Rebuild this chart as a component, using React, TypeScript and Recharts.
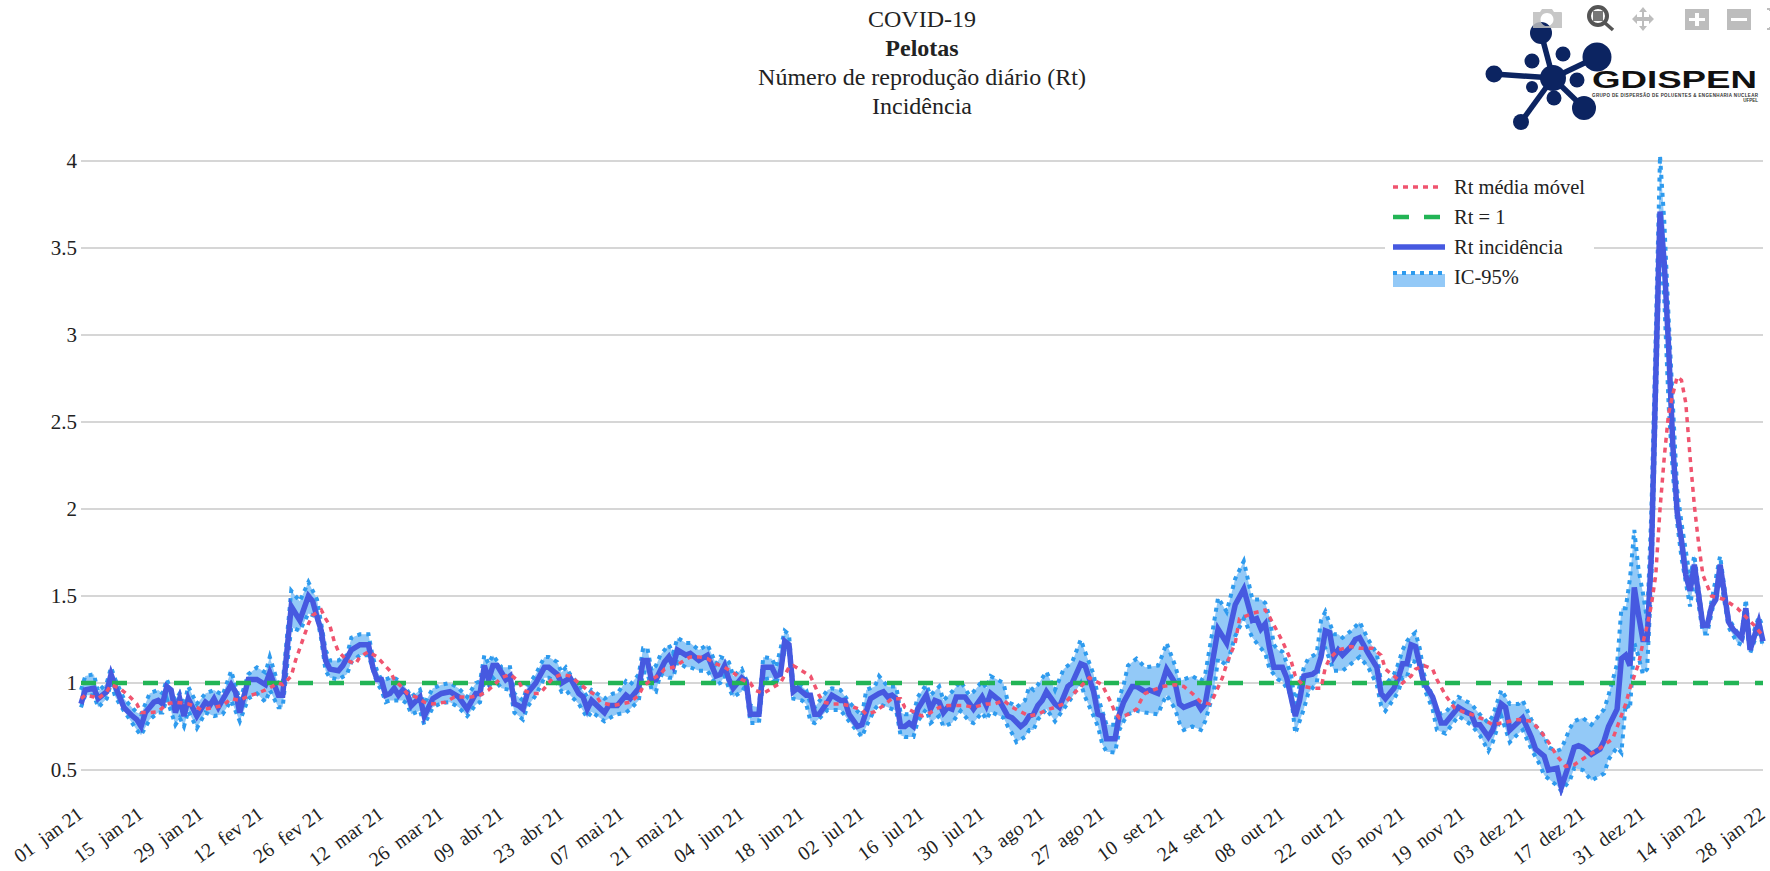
import { Area, CartesianGrid, ComposedChart, Legend, Line, XAxis, YAxis } from 'recharts'

// day number counted from 01 jan 21
const tickLabels = [
  '01  jan 21', '15  jan 21', '29  jan 21', '12  fev 21', '26  fev 21', '12  mar 21', '26  mar 21', '09  abr 21',
  '23  abr 21', '07  mai 21', '21  mai 21', '04  jun 21', '18  jun 21', '02  jul 21', '16  jul 21', '30  jul 21',
  '13  ago 21', '27  ago 21', '10  set 21', '24  set 21', '08  out 21', '22  out 21', '05  nov 21', '19  nov 21',
  '03  dez 21', '17  dez 21', '31  dez 21', '14  jan 22', '28  jan 22',
]
const tickDays = tickLabels.map((_, i) => i * 14)
const yTicks = [0.5, 1, 1.5, 2, 2.5, 3, 3.5, 4]
const lastDay = 392

const titleLines = ['COVID-19', 'Pelotas', 'Número de reprodução diário (Rt)', 'Incidência']

// [day, Rt]
const rtPoints = [
  [0, .88], [1, .96], [3, .97], [4, .91], [6, .95], [7, 1.05], [8, .98], [10, .86], [12, .81], [13, .79], [14, .75], [15, .83], [17, .89], [18, .90], [19, .88], [20, .98], [21, .96], [22, .83], [23, .91], [24, .81], [25, .91], [27, .81], [29, .89], [30, .87], [31, .91], [32, .86], [35, .99], [36, .95], [37, .83], [39, 1.02], [41, 1.02], [43, .99], [44, 1.06], [46, .93], [47, .93], [49, 1.44], [51, 1.36], [53, 1.50],
  [54, 1.47], [55, 1.38], [56, 1.3], [57, 1.13], [58, 1.08], [60, 1.07], [61, 1.10], [63, 1.19], [65, 1.22], [67, 1.22], [68, 1.09], [69, 1.02], [70, 1.02], [71, .93], [72, .94], [73, .97], [74, .93], [75, .96], [76, .94], [77, .87], [79, .92], [80, .81], [82, .91], [84, .94], [86, .95], [88, .92], [90, .85], [92, .94], [93, .94], [94, 1.10], [95, 1.02], [96, 1.10], [97, 1.10], [99, 1.02], [100, 1.04], [101, .88], [102, .87], [103, .85], [104, .94], [106, 1.0], [108, 1.09], [109, 1.09],
  [110, 1.07], [111, 1.05], [112, 1.0], [114, 1.03], [116, .94], [117, .92], [118, .85], [119, .90], [122, .83], [123, .87], [125, .87], [127, .93], [128, .91], [130, .97], [131, 1.13], [132, 1.13], [133, 1.01], [134, 1.02], [136, 1.12], [137, 1.15], [138, 1.10], [139, 1.19], [141, 1.16], [142, 1.17], [144, 1.13], [146, 1.16], [148, 1.04], [149, 1.05], [150, 1.10], [151, 1.02], [152, .97], [154, 1.03], [155, 1.01], [156, .82], [158, .82], [159, 1.09], [161, 1.09], [162, 1.04], [163, 1.05], [164, 1.24], [165, 1.22],
  [166, .95], [167, .97], [169, .93], [170, .93], [171, .82], [172, .82], [174, .89], [175, .93], [177, .90], [178, .90], [179, .82], [181, .75], [182, .76], [184, .91], [186, .94], [187, .95], [188, .92], [189, .93], [190, .91], [191, .75], [192, .75], [193, .77], [194, .75], [195, .85], [197, .93], [198, .85], [199, .90], [200, .89], [201, .83], [202, .86], [203, .85], [204, .92], [206, .92], [208, .85], [210, .92], [211, .87], [212, .94], [214, .90], [216, .81], [217, .80], [219, .75], [220, .77], [221, .81],
  [222, .82], [223, .87], [224, .90], [225, .95], [227, .88], [228, .86], [230, .98], [231, 1.0], [233, 1.11], [234, 1.10], [236, .95], [237, .82], [238, .81], [239, .68], [241, .68], [242, .82], [243, .89], [245, .98], [246, .98], [248, .95], [249, .96], [251, .94], [252, 1.0], [253, 1.08], [255, 1.0], [256, .88], [257, .86], [260, .89], [261, .85], [262, .88], [263, 1.02], [265, 1.31], [267, 1.23], [269, 1.45], [271, 1.54], [273, 1.36], [274, 1.37], [275, 1.31], [276, 1.34], [277, 1.2],
  [278, 1.09], [280, 1.09], [281, 1.03], [283, .81], [284, .90], [285, 1.04], [287, 1.05], [288, 1.07], [289, 1.15], [290, 1.30], [291, 1.29], [292, 1.15], [293, 1.19], [294, 1.16], [296, 1.21], [297, 1.25], [298, 1.26], [300, 1.17], [302, 1.09], [303, .94], [304, .91], [306, .97], [307, 1.03], [308, 1.11], [309, 1.11], [310, 1.22], [311, 1.21], [313, 1.0], [315, .92], [317, .77], [318, .77], [321, .86], [323, .83], [324, .82], [325, .76], [326, .76], [328, .69], [329, .73], [331, .88], [332, .86], [333, .73],
  [336, .80], [338, .69], [339, .62], [341, .58], [342, .50], [344, .51], [345, .40], [347, .55], [348, .63], [349, .64], [350, .63], [352, .59], [354, .62], [355, .67], [356, .75], [358, .85], [359, 1.14], [360, 1.16], [361, 1.10], [362, 1.55], [363, 1.39], [364, 1.25], [365, 1.25], [366, 1.75], [367, 2.75], [368, 3.71], [369, 3.41], [370, 2.93], [371, 2.36], [372, 1.98], [373, 1.82], [374, 1.62], [375, 1.53], [376, 1.68], [378, 1.33], [379, 1.33], [380, 1.44], [381, 1.48], [382, 1.68], [384, 1.35], [385, 1.31], [387, 1.26], [388, 1.43], [389, 1.19], [391, 1.35], [392, 1.24],
]

// [day, lower, upper]
const bandPoints = [
  [0, .86, .96], [1, .93, 1.04], [3, .93, 1.05], [4, .86, .95], [6, .91, 1.0], [7, 1.0, 1.09], [8, .92, 1.02], [10, .84, .91], [13, .73, .83], [14, .70, .82], [16, .79, .94], [18, .83, .96], [19, .83, .94], [20, .91, 1.02], [22, .76, .90], [23, .80, .94], [24, .75, .87], [25, .84, .98], [27, .74, .88], [29, .83, .94], [31, .81, .96], [33, .82, .93], [35, .90, 1.07], [37, .78, .90], [39, .91, 1.05], [41, .94, 1.09], [43, .89, 1.06], [44, .96, 1.15], [46, .86, .99], [47, .86, 1.0], [49, 1.32, 1.53], [51, 1.30, 1.47], [53, 1.40, 1.58],
  [55, 1.38, 1.48], [56, 1.25, 1.34], [57, 1.07, 1.19], [58, 1.03, 1.13], [60, 1.02, 1.13], [62, 1.05, 1.16], [63, 1.12, 1.26], [65, 1.16, 1.28], [67, 1.16, 1.28], [68, 1.08, 1.15], [69, 1.0, 1.07], [70, .96, 1.02], [71, .89, 1.02], [72, .90, 1.03], [73, .90, 1.03], [75, .90, 1.0], [76, .88, .96], [77, .82, .92], [79, .84, .96], [80, .76, .88], [82, .86, .97], [84, .885, .99], [86, .89, 1.0], [88, .86, .97], [90, .81, .92], [92, .875, 1.0], [93, .89, 1.01], [94, 1.02, 1.16], [95, .97, 1.11], [96, 1.03, 1.16], [98, .97, 1.09], [100, .96, 1.09], [101, .83, .94], [103, .79, .90], [104, .86, .98], [106, .93, 1.05], [108, 1.03, 1.15], [109, 1.03, 1.15],
  [111, 1.0, 1.12], [112, .95, 1.06], [113, .96, 1.09], [114, .93, 1.05], [116, .88, .99], [118, .80, .92], [119, .835, .96], [122, .78, .91], [124, .81, .94], [125, .82, .94], [127, .83, 1.01], [128, .85, .99], [130, .90, 1.05], [131, 1.06, 1.20], [132, 1.06, 1.20], [133, .96, 1.07], [134, .95, 1.10], [135, 1.05, 1.16], [137, 1.03, 1.22], [138, 1.03, 1.17], [139, 1.12, 1.26], [141, 1.09, 1.23], [142, 1.09, 1.23], [144, 1.07, 1.19], [146, 1.07, 1.22], [148, .99, 1.11], [149, 1.0, 1.15], [150, 1.04, 1.14], [151, .97, 1.12], [152, .92, 1.04], [154, .95, 1.08], [155, .99, 1.02], [156, .77, .87], [158, .77, .86], [159, 1.02, 1.15], [161, 1.03, 1.14], [162, .99, 1.09], [164, 1.18, 1.30], [165, 1.18, 1.28],
  [166, .91, .98], [168, .90, .98], [169, .88, .96], [170, .78, .88], [171, .77, .86], [174, .845, .96], [175, .845, .97], [177, .845, .96], [179, .78, .89], [182, .69, .81], [183, .75, .96], [185, .85, .98], [186, .88, 1.04], [188, .86, .98], [190, .84, .98], [191, .70, .83], [192, .69, .82], [194, .69, .82], [195, .78, .92], [197, .85, .99], [198, .77, .93], [200, .81, .98], [201, .75, .90], [203, .77, .95], [205, .84, 1.01], [207, .78, .93], [208, .77, .95], [210, .83, 1.01], [211, .79, .97], [212, .835, 1.04], [215, .80, 1.0], [216, .75, .89], [217, .71, .88], [218, .66, .86], [220, .69, .90], [221, .73, .98],
  [222, .73, .96], [223, .79, .99], [225, .85, 1.065], [227, .78, .96], [229, .85, 1.08], [231, .92, 1.12], [233, 1.0, 1.25], [234, .92, 1.18], [236, .81, 1.05], [237, .75, .92], [238, .65, .84], [239, .605, .76], [241, .60, .76], [242, .73, .92], [243, .78, .99], [244, .82, 1.10], [246, .84, 1.14], [248, .83, 1.09], [251, .82, 1.10], [252, .88, 1.16], [253, .93, 1.23], [255, .85, 1.10], [256, .77, 1.01], [257, .73, 1.02], [259, .75, 1.04], [261, .73, 1.01], [262, .78, 1.05], [264, .95, 1.34], [265, 1.14, 1.49], [267, 1.10, 1.41], [269, 1.27, 1.60], [271, 1.37, 1.70], [273, 1.26, 1.48], [275, 1.20, 1.48], [276, 1.17, 1.46], [277, 1.08, 1.38],
  [278, 1.05, 1.22], [279, 1.02, 1.19], [280, 1.01, 1.18], [282, .93, 1.05], [283, .71, .88], [285, .85, 1.09], [286, .94, 1.14], [288, 1.0, 1.17], [289, 1.2, 1.36], [290, 1.2, 1.41], [292, 1.07, 1.28], [293, 1.07, 1.28], [294, 1.07, 1.26], [296, 1.11, 1.30], [298, 1.15, 1.35], [300, 1.09, 1.25], [302, .99, 1.17], [303, .87, 1.0], [304, .84, .99], [306, .91, 1.05], [307, .95, 1.11], [308, 1.03, 1.19], [309, 1.03, 1.24], [310, 1.13, 1.27], [311, 1.12, 1.29], [312, 1.1, 1.20], [313, .97, 1.05], [315, .85, .92], [316, .73, .82], [318, .71, .83], [321, .81, .92], [324, .76, .88], [326, .70, .82], [328, .61, .77], [329, .66, .81], [331, .81, .96], [333, .66, .88],
  [335, .71, .88], [336, .73, .90], [338, .62, .79], [340, .53, .72], [341, .47, .70], [342, .45, .63], [344, .41, .61], [345, .38, .62], [347, .44, .74], [348, .51, .78], [350, .50, .80], [352, .44, .76], [355, .48, .85], [356, .56, .93], [358, .63, 1.11], [359, .60, 1.43], [360, .88, 1.43], [361, .85, 1.60], [362, 1.23, 1.88], [363, 1.15, 1.65], [364, 1.05, 1.52], [365, 1.08, 1.36], [366, 1.6, 2.0], [367, 2.55, 3.0], [368, 3.53, 4.03], [369, 3.2, 3.65], [370, 2.6, 3.1], [371, 2.2, 2.6], [372, 1.92, 2.11], [373, 1.72, 1.92], [375, 1.44, 1.60], [376, 1.61, 1.735], [378, 1.285, 1.34], [379, 1.285, 1.34], [380, 1.40, 1.47], [382, 1.62, 1.73], [384, 1.32, 1.37], [386, 1.23, 1.29], [387, 1.22, 1.28], [388, 1.36, 1.48], [389, 1.17, 1.23], [391, 1.31, 1.38], [392, 1.21, 1.32],
]

// [day, Rt média móvel]
const movingAvgPoints = [
  [0, .91], [1, .93], [3, .92], [4, .91], [6, .95], [7, .99], [9, .97], [11, .93], [13, .88], [14, .83], [16, .83], [18, .835], [20, .88], [22, .89], [25, .88], [27, .86], [28, .845], [31, .86], [33, .87], [35, .91], [37, .90], [39, .925], [41, .94], [43, .96], [46, 1.0], [47, .99], [49, 1.04], [50, 1.13], [52, 1.27], [53, 1.34], [54, 1.39], [56, 1.42], [57, 1.37], [58, 1.33], [59, 1.24], [60, 1.18], [62, 1.13], [64, 1.11], [65, 1.15], [67, 1.18], [69, 1.15], [72, 1.07], [73, 1.02], [75, .97], [76, .94], [78, .92], [80, .89], [82, .88], [85, .89], [87, .92], [89, .92], [91, .92], [93, .93], [95, .96], [98, 1.03], [100, 1.05], [102, 1.01], [103, .96], [105, .94], [107, .94], [109, 1.0],
  [110, 1.03], [112, 1.05], [114, 1.04], [116, 1.0], [118, .96], [120, .93], [121, .89], [124, .87], [126, .88], [128, .89], [130, .93], [131, .98], [133, 1.02], [135, 1.05], [136, 1.08], [138, 1.09], [140, 1.12], [142, 1.15], [144, 1.15], [146, 1.14], [148, 1.11], [150, 1.09], [152, 1.06], [154, 1.02], [156, 1.0], [157, .96], [159, .94], [161, .97], [163, 1.0], [165, 1.09], [166, 1.10], [168, 1.07], [170, 1.04], [172, .93], [173, .89], [175, .88], [177, .88], [179, .87], [182, .845], [183, .82], [185, .835], [187, .87], [189, .91], [191, .91], [192, .86], [194, .835], [196, .81], [198, .83], [200, .86], [202, .87], [204, .87], [206, .87], [208, .86], [211, .88], [213, .88], [215, .90], [217, .86], [219, .835], [221, .81],
  [223, .82], [225, .845], [227, .86], [229, .88], [231, .93], [233, .98], [235, 1.03], [238, .99], [240, .89], [241, .83], [242, .80], [244, .82], [246, .85], [247, .90], [248, .94], [250, .96], [252, .98], [255, .99], [257, .98], [259, .94], [261, .89], [263, .88], [264, .92], [266, 1.03], [267, 1.11], [269, 1.23], [270, 1.37], [273, 1.40], [276, 1.42], [277, 1.38], [280, 1.24], [282, 1.13], [283, 1.04], [285, .98], [287, .97], [289, .97], [290, 1.09], [291, 1.14], [293, 1.19], [296, 1.21], [298, 1.20], [301, 1.20], [303, 1.16], [304, 1.08], [306, 1.04], [308, 1.0], [310, 1.04], [311, 1.08], [313, 1.10], [315, 1.08], [316, 1.02], [318, .93], [320, .86], [322, .835], [324, .82], [327, .79], [329, .76], [331, .77], [333, .78],
  [335, .79], [338, .78], [340, .73], [342, .66], [344, .58], [346, .52], [348, .53], [351, .58], [354, .625], [357, .68], [360, .88], [361, .97], [363, 1.11], [364, 1.23], [365, 1.33], [366, 1.45], [367, 1.62], [368, 2.0], [369, 2.3], [370, 2.55], [371, 2.66], [372, 2.76], [373, 2.74], [374, 2.61], [375, 2.3], [376, 2.02], [377, 1.8], [378, 1.62], [380, 1.50], [383, 1.48], [386, 1.43], [388, 1.38], [390, 1.33], [391, 1.30], [392, 1.27],
]

const rtOnePoints = [[0, 1], [lastDay, 1]]

const RED = '#f0546f'
const GREEN = '#22b455'
const BLUE = '#4659e0'
const SKY = '#2e9bee'
const SKY_FILL = '#93c9f7'
const SERIF = '"Liberation Serif", serif'

// everything goes in one table, one row per day that has a reading
const byDay = new Map<number, any>()
const row = (day: number) => {
  if (!byDay.has(day)) byDay.set(day, { day })
  return byDay.get(day)
}
rtPoints.forEach(([d, v]) => { row(d).rt = v })
movingAvgPoints.forEach(([d, v]) => { row(d).ma = v })
rtOnePoints.forEach(([d, v]) => { row(d).one = v })
bandPoints.forEach(([d, lo, hi]) => {
  row(d).low = lo
  row(d).high = hi
  row(d).band = [lo, hi]
})
const table = [...byDay.values()].sort((a, b) => a.day - b.day)

function DayTick({ x, y, payload }: any) {
  const tx = x - 5
  const ty = y + 7
  return (
    <text
      x={tx}
      y={ty}
      transform={`rotate(-36 ${tx} ${ty})`}
      textAnchor="end"
      dominantBaseline="hanging"
      fontFamily={SERIF}
      fontSize={20}
      fill="#222"
      style={{ whiteSpace: 'pre' }}
    >
      {tickLabels[payload.value / 14]}
    </text>
  )
}

function LegendBox() {
  const rows = [
    { label: 'Rt média móvel', line: <line x1="8" x2="55" y1="10" y2="10" stroke={RED} strokeWidth={3.5} strokeDasharray="5 5" /> },
    { label: 'Rt = 1', line: <line x1="8" x2="55" y1="10" y2="10" stroke={GREEN} strokeWidth={4.5} strokeDasharray="16 15" /> },
    { label: 'Rt incidência', line: <line x1="8" x2="60" y1="10" y2="10" stroke={BLUE} strokeWidth={5.5} /> },
    {
      label: 'IC-95%',
      line: (
        <>
          <rect x="8" y="7" width="52" height="13" fill={SKY_FILL} />
          <line x1="8" x2="60" y1="6" y2="6" stroke={SKY} strokeWidth={4} strokeDasharray="4 5" />
        </>
      ),
    },
  ]
  return (
    <div style={{ background: '#fff', fontFamily: SERIF, fontSize: 20.5, color: '#222', height: 122 }}>
      {rows.map((r) => (
        <div key={r.label} style={{ height: 30, position: 'relative' }}>
          <svg width={66} height={22} style={{ position: 'absolute', left: 0, top: 5 }}>{r.line}</svg>
          <span style={{ position: 'absolute', left: 69, top: 4, whiteSpace: 'nowrap' }}>{r.label}</span>
        </div>
      ))}
    </div>
  )
}

function Logo() {
  const navy = '#0c2461'
  const hub = [1553, 78]
  const arms = [[1541, 33], [1597, 57], [1494, 74], [1521, 122], [1584, 108]]
  const blobs = [[1541, 33, 11], [1597, 57, 14.5], [1494, 74, 8.5], [1521, 122, 8], [1584, 108, 12], [1532, 61, 7.5], [1563, 54, 7.5], [1577, 80, 7.5], [1532, 87, 6], [1554, 98, 7.5], [1553, 78, 13]]
  return (
    <svg width={1770} height={140} style={{ position: 'absolute', left: 0, top: 0 }}>
      {arms.map(([x, y]) => (
        <line key={x} x1={hub[0]} y1={hub[1]} x2={x} y2={y} stroke={navy} strokeWidth={5.5} />
      ))}
      {blobs.map(([x, y, r]) => (
        <circle key={`${x}-${y}`} cx={x} cy={y} r={r} fill={navy} />
      ))}
      <text x={1592} y={88} fontFamily='"Liberation Sans", sans-serif' fontSize={23} fontWeight={700} textLength={165} lengthAdjust="spacingAndGlyphs" fill="#111">GDISPEN</text>
      <text x={1592} y={97} fontFamily='"Liberation Sans", sans-serif' fontSize={4.5} fontWeight={700} textLength={166} fill="#333">GRUPO DE DISPERSÃO DE POLUENTES &amp; ENGENHARIA NUCLEAR</text>
      <text x={1758} y={102} textAnchor="end" fontFamily='"Liberation Sans", sans-serif' fontSize={4.5} fontWeight={700} fill="#333">UFPEL</text>

      {/* plot toolbar */}
      <g fill="#bdbdbd">
        <path d="M1533 12h7l2-3h10l2 3h7a1 1 0 0 1 1 1v15h-29zM1547 13a6.500 6.500 0 1 0 .01 0z" opacity={0.85} fillRule="evenodd" />
        <path d="M1643 7l4 5h-3v5h5v-3l5 5-5 5v-3h-5v5h3l-4 5-4-5h3v-5h-5v3l-5-5 5-5v3h5v-5h-3z" transform="translate(0 0)" />
        <path d="M1685 9h24v21h-24zM1695 13v5h-6v3h6v5h4v-5h6v-3h-6v-5z" fillRule="evenodd" />
        <path d="M1727 9h24v21h-24zM1731 18v3h16v-3z" fillRule="evenodd" />
        <path d="M1767 8h3v3h-1v-1h-2zM1767 28h2v-1h1v3h-3z" />
      </g>
      <g>
        <circle cx={1598} cy={16} r={9} fill="none" stroke="#555" strokeWidth={4} />
        <rect x={1593} y={11} width={10} height={10} fill="#777" />
        <line x1={1605} y1={23} x2={1613} y2={30} stroke="#555" strokeWidth={3.5} />
      </g>
    </svg>
  )
}

export default function App() {
  return (
    <div style={{ position: 'absolute', left: 0, top: 0, width: 1770, height: 871, background: '#fff', overflow: 'hidden' }}>
      <ComposedChart width={1770} height={871} data={table} margin={{ top: 152.3, right: 7, bottom: 0, left: 0 }}>
        <CartesianGrid vertical={false} stroke="#c8c8c8" strokeWidth={1.5} horizontalValues={yTicks} syncWithTicks />
        <XAxis
          dataKey="day"
          type="number"
          domain={[0, lastDay]}
          ticks={tickDays}
          interval={0}
          axisLine={false}
          tickLine={false}
          tickSize={0}
          height={74.9}
          tick={<DayTick />}
        />
        <YAxis
          type="number"
          domain={[0.35, 4.05]}
          ticks={yTicks}
          allowDataOverflow
          width={81}
          axisLine={false}
          tickLine={false}
          tickSize={0}
          tickMargin={4}
          tick={{ fontFamily: SERIF, fontSize: 21, fill: '#222' }}
        />
        <Area dataKey="band" stroke="none" fill={SKY_FILL} fillOpacity={1} connectNulls dot={false} activeDot={false} isAnimationActive={false} />
        <Line dataKey="high" stroke={SKY} strokeWidth={4} strokeDasharray="4 5" connectNulls dot={false} activeDot={false} isAnimationActive={false} />
        <Line dataKey="low" stroke={SKY} strokeWidth={4} strokeDasharray="4 5" connectNulls dot={false} activeDot={false} isAnimationActive={false} />
        <Line dataKey="rt" stroke={BLUE} strokeWidth={5.5} connectNulls dot={false} activeDot={false} isAnimationActive={false} />
        <Line dataKey="one" stroke={GREEN} strokeWidth={4.5} strokeDasharray="15 16" connectNulls dot={false} activeDot={false} isAnimationActive={false} />
        <Line dataKey="ma" stroke={RED} strokeWidth={3.5} strokeDasharray="5 5" connectNulls dot={false} activeDot={false} isAnimationActive={false} />
        <Legend
          layout="vertical"
          align="center"
          verticalAlign="middle"
          content={<LegendBox />}
          wrapperStyle={{ position: 'absolute', left: 1385, top: 172, width: 209, height: 122 }}
        />
      </ComposedChart>

      <Logo />

      <div style={{ position: 'absolute', left: 0, top: 5, width: 1844, textAlign: 'center', fontFamily: SERIF, fontSize: 24, lineHeight: '29px', color: '#222' }}>
        {titleLines.map((t, i) => (
          <div key={t} style={{ fontWeight: i === 1 ? 700 : 400 }}>{t}</div>
        ))}
      </div>
    </div>
  )
}
